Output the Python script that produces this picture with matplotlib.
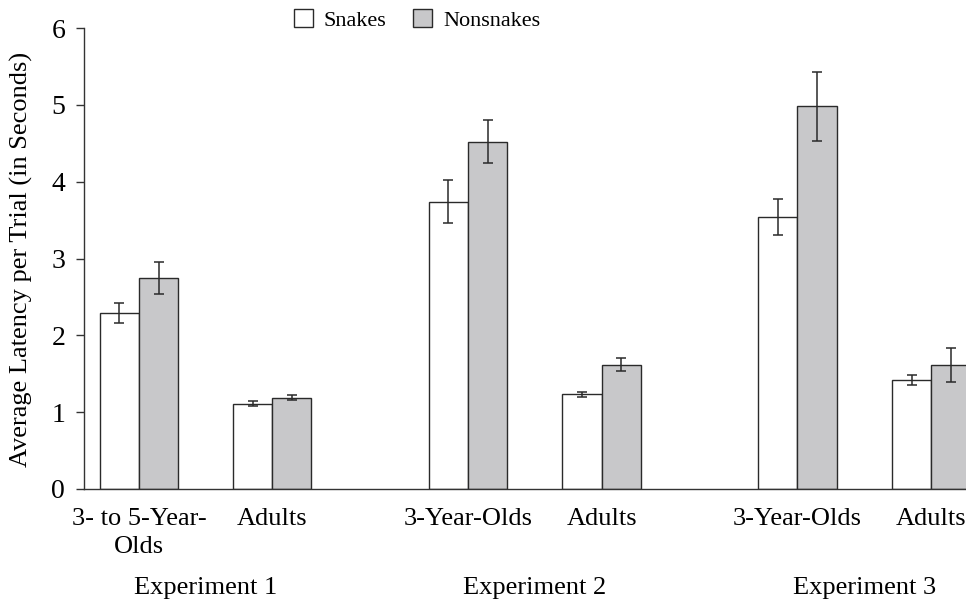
import matplotlib
matplotlib.use('Agg')
import matplotlib.pyplot as plt
from matplotlib.patches import Patch
import numpy as np

plt.rcParams['font.family'] = ['Liberation Serif', 'DejaVu Serif']

# Data
GROUPS = ['3- to 5-Year-\nOlds', 'Adults', '3-Year-Olds', 'Adults', '3-Year-Olds', 'Adults']
EXPERIMENTS = ['Experiment 1', 'Experiment 2', 'Experiment 3']
SNAKES = [2.29, 1.11, 3.74, 1.23, 3.54, 1.42]
SNAKES_ERR = [0.13, 0.03, 0.28, 0.03, 0.23, 0.07]
NONSNAKES = [2.75, 1.19, 4.52, 1.62, 4.98, 1.61]
NONSNAKES_ERR = [0.21, 0.03, 0.28, 0.09, 0.45, 0.22]
POSITIONS = [0, 3.40, 8.39, 11.80, 16.79, 20.20]

EDGE = '#2a2a2a'
GRAY = '#c8c8ca'
ERR_KW = dict(ecolor='#2a2a2a', elinewidth=1.1, capsize=3.4, capthick=1.1)


def main():
    fig = plt.figure(figsize=(9.66, 6.01), dpi=100)
    ax = fig.add_axes([84 / 966, 112 / 601, (985 - 84) / 966, 461 / 601])

    x = np.array(POSITIONS)
    ax.bar(x - 0.5, SNAKES, width=1, color='white', edgecolor=EDGE, linewidth=1.0,
           yerr=SNAKES_ERR, error_kw=ERR_KW, zorder=2)
    ax.bar(x + 0.5, NONSNAKES, width=1, color=GRAY, edgecolor=EDGE, linewidth=1.0,
           yerr=NONSNAKES_ERR, error_kw=ERR_KW, zorder=2)

    ax.set_ylim(0, 6)
    ax.set_xlim(-1.40, (985 - 139.3) / 39.2)
    ax.set_yticks(range(7))
    ax.tick_params(axis='y', direction='out', length=6, width=1.0, color='#333333',
                   labelsize=20, pad=7.5)
    ax.tick_params(axis='x', length=0, labelsize=19, pad=14)
    ax.set_xticks(x)
    ax.set_xticklabels(GROUPS, linespacing=1.3)

    for side in ['top', 'right']:
        ax.spines[side].set_visible(False)
    for side in ['left', 'bottom']:
        ax.spines[side].set_color('#333333')
        ax.spines[side].set_linewidth(1.0)

    ax.set_ylabel('Average Latency per Trial (in Seconds)', fontsize=19)
    ax.yaxis.set_label_coords(-0.0566, 0.498)

    # Experiment labels under each pair
    for i, name in enumerate(EXPERIMENTS):
        mid = (x[2 * i] + x[2 * i + 1]) / 2
        ax.text(mid, -1.29, name, ha='center', va='center', fontsize=19,
                transform=ax.transData)

    handles = [Patch(facecolor='white', edgecolor=EDGE, linewidth=1.0, label='Snakes'),
               Patch(facecolor=GRAY, edgecolor=EDGE, linewidth=1.0, label='Nonsnakes')]
    fig.legend(handles=handles, loc='center', bbox_to_anchor=(417 / 966, 1 - 20 / 601),
               ncol=2, frameon=False, fontsize=16, handlelength=0.85, handleheight=0.85,
               handletextpad=0.5, columnspacing=1.2)

    fig.savefig('out.png', dpi=100)
    plt.close(fig)


if __name__ == "__main__":
    main()
